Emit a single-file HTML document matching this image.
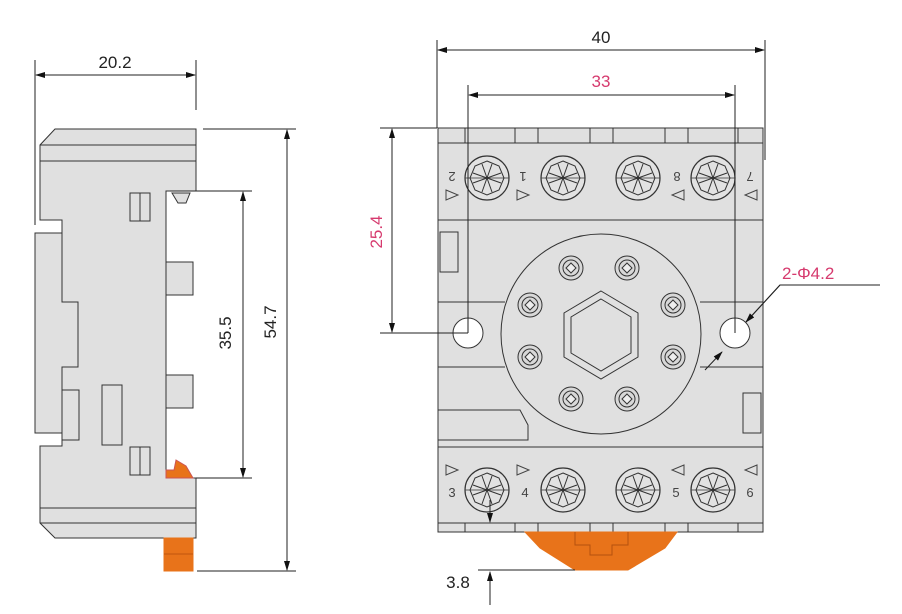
<!DOCTYPE html>
<html><head><style>body{margin:0;background:#fff}svg{display:block}text{font-family:"Liberation Sans",sans-serif}</style></head>
<body>
<svg width="902" height="614" viewBox="0 0 902 614" xmlns="http://www.w3.org/2000/svg">
<defs>
<marker id="a" markerWidth="10" markerHeight="10" refX="9" refY="5" orient="auto-start-reverse" markerUnits="userSpaceOnUse"><path d="M0,2 L10,5 L0,8Z" fill="#111"/></marker>
<g id="scr"><circle r="22" fill="#e2e2e2" stroke="#333" stroke-width="1.2"/><polygon points="0,-17 12,-12 17,0 12,12 0,17 -12,12 -17,0 -12,-12" fill="none" stroke="#333"/><path d="M-14,-5 L14,5 M-14,5 L14,-5 M-5,-14 L5,14 M5,-14 L-5,14" stroke="#333" stroke-width="1"/><path d="M-22,0 H22" stroke="#333" stroke-width=".8"/></g>
<g id="pin"><circle r="12" fill="#d8d8d8" stroke="#333"/><circle r="8" fill="none" stroke="#333"/><polygon points="0,-5 5,0 0,5 -5,0" fill="#eee" stroke="#333"/></g>
</defs>
<g stroke="#333" stroke-width="1" fill="#e0e0e0">
<!-- left view -->
<path d="M55,129 H196 V191 H166 V478 H196 V538 H55 L40,523 V446 H62 V433 H35 V233 H62 V220 H40 V145 Z"/>
<path d="M40,145 H196 M40,161 H196 M40,508 H196 M40,523 H196" fill="none"/>
<path d="M62,233 V302 H78 V367 H62 V433" fill="none"/>
<rect x="130" y="193" width="20" height="28"/><line x1="140" y1="193" x2="140" y2="221"/>
<rect x="130" y="447" width="20" height="28"/><line x1="140" y1="447" x2="140" y2="475"/>
<rect x="166" y="262" width="27" height="33"/><rect x="166" y="375" width="27" height="33"/>
<rect x="102" y="385" width="20" height="60"/><rect x="62" y="390" width="17" height="50"/>
<path d="M172,193 L190,193 L186,203 L178,203Z"/>
<path d="M166,470 L174,470 L176,460 L186,466 L193,478 L166,478Z" fill="#e8731a" stroke="#c55"/>
<rect x="164" y="538" width="29" height="33" fill="#e8731a" stroke="#e8731a"/><line x1="164" y1="554" x2="193" y2="554" stroke="#c0540f"/>
<!-- right view -->
<rect x="438" y="128" width="325" height="404"/>
<path d="M438,220 H763 M438,447 H763 M438,302 H505 M438,367 H505 M700,302 H763 M700,367 H763 M438,143 H763 M438,523 H763" fill="none"/>
<path d="M438,410 H520 L528,425 V440 H438" fill="none"/>
<g fill="none"><path d="M465,128 V143 H515 V128 M538,128 V143 H590 V128 M613,128 V143 H665 V128 M688,128 V143 H738 V128"/>
<path d="M465,532 V523 H515 V532 M538,532 V523 H590 V532 M613,532 V523 H665 V532 M688,532 V523 H738 V532"/></g>
<rect x="440" y="232" width="18" height="40"/><rect x="743" y="393" width="18" height="40"/>
<circle cx="601" cy="334" r="100"/>
<polygon points="601,291 638,313 638,357 601,379 564,357 564,313"/>
<polygon points="601,299 631,317 631,353 601,371 571,353 571,317" fill="none"/>
<path d="M525,532 H677 L665,548 L628,570 H575 L540,548Z" fill="#e8731a" stroke="#e8731a"/>
<path d="M575,532 V545 H590 V555 H612 V545 H628 V532" fill="none" stroke="#b5500f"/>
<circle cx="468" cy="333" r="15" fill="#fff"/><circle cx="735" cy="333" r="15" fill="#fff"/>
</g>
<g><use href="#pin" x="571" y="268"/><use href="#pin" x="627" y="268"/><use href="#pin" x="530" y="305"/><use href="#pin" x="673" y="305"/><use href="#pin" x="530" y="357"/><use href="#pin" x="673" y="357"/><use href="#pin" x="571" y="399"/><use href="#pin" x="627" y="399"/>
<use href="#scr" x="487" y="178"/><use href="#scr" x="563" y="178"/><use href="#scr" x="638" y="178"/><use href="#scr" x="713" y="178"/>
<use href="#scr" x="487" y="490"/><use href="#scr" x="563" y="490"/><use href="#scr" x="638" y="490"/><use href="#scr" x="713" y="490"/></g>
<g fill="#444" font-size="13">
<text transform="translate(452,172) rotate(180)" text-anchor="middle">2</text>
<text transform="translate(523,172) rotate(180)" text-anchor="middle">1</text>
<text transform="translate(677,172) rotate(180)" text-anchor="middle">8</text>
<text transform="translate(750,172) rotate(180)" text-anchor="middle">7</text>
<text x="452" y="497" text-anchor="middle">3</text><text x="525" y="497" text-anchor="middle">4</text>
<text x="676" y="497" text-anchor="middle">5</text><text x="750" y="497" text-anchor="middle">6</text>
</g>
<g fill="none" stroke="#444"><path d="M446,190 L458,195 L446,200Z M517,190 L529,195 L517,200Z M684,190 L672,195 L684,200Z M757,190 L745,195 L757,200Z M446,465 L458,470 L446,475Z M517,465 L529,470 L517,475Z M684,465 L672,470 L684,475Z M757,465 L745,470 L757,475Z"/></g>
<!-- dimensions -->
<g stroke="#222" stroke-width="1" fill="none">
<path d="M35,60 V225 M196,60 V110 M203,129 H296 M197,571 H296 M170,191 H252 M196,478 H252"/>
<line x1="36" y1="75" x2="195" y2="75" marker-start="url(#a)" marker-end="url(#a)"/>
<line x1="287" y1="130" x2="287" y2="570" marker-start="url(#a)" marker-end="url(#a)"/>
<line x1="243" y1="192" x2="243" y2="477" marker-start="url(#a)" marker-end="url(#a)"/>
<path d="M437,40 V128 M765,40 V160 M468,85 V333 M735,85 V333 M380,128 H437 M380,333 H468"/>
<line x1="438" y1="50" x2="764" y2="50" marker-start="url(#a)" marker-end="url(#a)"/>
<line x1="469" y1="95" x2="734" y2="95" marker-start="url(#a)" marker-end="url(#a)"/>
<line x1="392" y1="129" x2="392" y2="332" marker-start="url(#a)" marker-end="url(#a)"/>
<path d="M880,285 H780 L746,322"/>
<line x1="780" y1="285" x2="746" y2="322" marker-end="url(#a)"/>
<line x1="705" y1="370" x2="722" y2="352" marker-end="url(#a)"/>
<line x1="490" y1="500" x2="490" y2="522" marker-end="url(#a)"/>
<line x1="490" y1="605" x2="490" y2="572" marker-end="url(#a)"/>
<path d="M478,570 H575"/>
</g>
<g font-size="17" fill="#222">
<text x="115" y="68" text-anchor="middle">20.2</text>
<text transform="translate(276,322) rotate(-90)" text-anchor="middle">54.7</text>
<text transform="translate(231,333) rotate(-90)" text-anchor="middle">35.5</text>
<text x="601" y="43" text-anchor="middle">40</text>
<text x="458" y="588" text-anchor="middle">3.8</text>
</g>
<g font-size="17" fill="#d63a6e">
<text x="601" y="87" text-anchor="middle">33</text>
<text transform="translate(382,232) rotate(-90)" text-anchor="middle">25.4</text>
<text x="782" y="279">2-Φ4.2</text>
</g>
</svg>
</body></html>
